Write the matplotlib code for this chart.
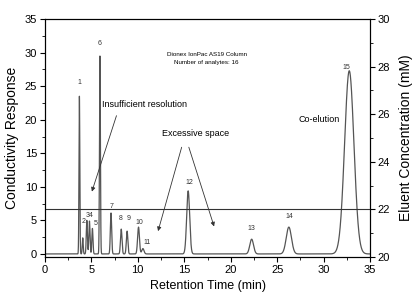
import numpy as np
import matplotlib
matplotlib.use("Agg")
import matplotlib.pyplot as plt
from matplotlib.ticker import MultipleLocator

plt.rcParams['font.family'] = ['Liberation Sans', 'DejaVu Sans']

# Peak table
peak_ids = ["1", "2", "3", "4", "5", "6", "7", "8", "9", "10", "11", "12", "13", "14", "15"]
peak_times = [3.72, 4.08, 4.52, 4.80, 5.12, 5.93, 7.12, 8.22, 8.85, 10.08, 10.55, 15.42, 22.25, 26.25, 32.75]
peak_heights = [23.5, 2.4, 5.0, 4.9, 3.8, 29.5, 6.1, 3.7, 3.4, 4.0, 0.8, 9.4, 2.2, 4.0, 27.3]
peak_sigmas = [0.045, 0.05, 0.06, 0.06, 0.06, 0.05, 0.07, 0.08, 0.08, 0.1, 0.12, 0.16, 0.2, 0.28, 0.5]
label_x = [3.72, 4.17, 4.62, 5.0, 5.5, 5.93, 7.23, 8.2, 9.0, 10.2, 11.0, 15.5, 22.25, 26.3, 32.45]
label_y = [25.6, 4.8, 5.8, 5.8, 4.6, 31.4, 7.0, 5.3, 5.3, 4.7, 1.7, 10.7, 3.8, 5.6, 27.8]

eluent_times = [0, 35]
eluent_conc = [22, 22]

t = np.linspace(0, 35, 7001)
signal = np.zeros_like(t)
for mu, h, s in zip(peak_times, peak_heights, peak_sigmas):
    signal += h * np.exp(-0.5 * ((t - mu) / s) ** 2)

fig = plt.figure(figsize=(4.15, 2.94), dpi=100)
ax = fig.add_axes([0.108, 0.126, 0.784, 0.809])
ax.plot(t, signal, color='#555555', lw=0.9)
ax.set_xlim(0, 35)
ax.set_ylim(-0.45, 35)
ax.xaxis.set_major_locator(MultipleLocator(5))
ax.xaxis.set_minor_locator(MultipleLocator(2.5))
ax.yaxis.set_major_locator(MultipleLocator(5))
ax.yaxis.set_minor_locator(MultipleLocator(2.5))
ax.tick_params(which='both', direction='out', labelsize=8, pad=2)
ax.tick_params(which='major', length=3.5)
ax.tick_params(which='minor', length=2)
ax.set_xlabel("Retention Time (min)", fontsize=9, labelpad=4)
ax.set_ylabel("Conductivity Response", fontsize=10, labelpad=4)

for lab, x, y in zip(peak_ids, label_x, label_y):
    ax.text(x, y, lab, fontsize=5, ha='center', va='center', color='#333333')

ax.text(17.4, 29.7, "Dionex IonPac AS19 Column", fontsize=4.5, ha='center', va='center')
ax.text(17.4, 28.6, "Number of analytes: 16", fontsize=4.5, ha='center', va='center')

ax.text(10.7, 22.3, "Insufficient resolution", fontsize=6.5, ha='center', va='center')
ax.annotate("", xy=(4.97, 8.9), xytext=(7.8, 21.0),
            arrowprops=dict(arrowstyle='-|>', color='#333333', lw=0.6, mutation_scale=6))
ax.text(16.2, 17.9, "Excessive space", fontsize=6.5, ha='center', va='center')
ax.annotate("", xy=(12.1, 3.0), xytext=(14.8, 16.3),
            arrowprops=dict(arrowstyle='-|>', color='#333333', lw=0.6, mutation_scale=6))
ax.annotate("", xy=(18.3, 3.7), xytext=(15.4, 16.3),
            arrowprops=dict(arrowstyle='-|>', color='#333333', lw=0.6, mutation_scale=6))
ax.text(29.5, 20.0, "Co-elution", fontsize=6.5, ha='center', va='center')

ax2 = ax.twinx()
ax2.plot(eluent_times, eluent_conc, color='#333333', lw=0.8)
ax2.set_ylim(20, 30)
ax2.yaxis.set_major_locator(MultipleLocator(2))
ax2.yaxis.set_minor_locator(MultipleLocator(1))
ax2.tick_params(which='both', direction='out', labelsize=8, pad=2)
ax2.tick_params(which='major', length=3.5)
ax2.tick_params(which='minor', length=2)
ax2.set_ylabel("Eluent Concentration (mM)", fontsize=10, labelpad=6)

fig.savefig("out.png", dpi=100)
